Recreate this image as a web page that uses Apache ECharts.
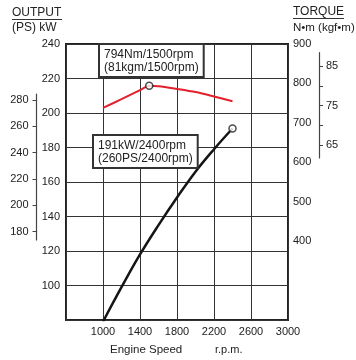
<!DOCTYPE html>
<html>
<head>
<meta charset="utf-8">
<script src="https://cdn.jsdelivr.net/npm/echarts@6/dist/echarts.min.js"></script>
<style>
  html, body { margin: 0; padding: 0; background: #fff; }
  #chart { width: 356px; height: 360px; }
</style>
</head>
<body>
<div id="chart"></div>
<script>
// engine speed (rpm) for each reading
const torqueRpm = [1000, 1200, 1400, 1500, 1600, 1800, 2000, 2200, 2400];
const torqueNm = [738, 760, 783, 794, 793, 786, 778, 767, 755];
const outputRpm = [1000, 1200, 1400, 1600, 1800, 2000, 2200, 2400];
const outputKw = [79, 99, 118, 135, 151, 166, 179, 191];

// marked points (index into the arrays above)
const torquePeakIdx = 3;
const outputPeakIdx = 7;

// tick labels of the secondary scales
const psTicks = [180, 200, 220, 240, 260, 280];
const kgfTicks = [65, 70, 75, 80, 85];
const kgfLabels = [65, 75, 85];

const FONT = 'Liberation Sans, Arial, sans-serif';
const INK = '#222';

const pairs = (xs, ys) => xs.map((x, i) => [x, ys[i]]);

const chart = echarts.init(document.getElementById('chart'));

const hiddenX = (gridIndex) => ({
  type: 'value', gridIndex, show: false, min: 0, max: 1
});

chart.setOption({
  animation: false,
  grid: [
    { left: 66, top: 44, width: 222, height: 276, show: true, borderColor: INK, borderWidth: 2, backgroundColor: 'transparent' },
    { left: 36.5, top: 94, width: 1, height: 146 },   // PS scale
    { left: 319, top: 52.7, width: 1, height: 105.3 }  // kgf·m scale
  ],
  xAxis: [
    {
      type: 'value', gridIndex: 0, min: 600, max: 3000, interval: 400,
      axisLine: { show: false }, axisTick: { show: false },
      axisLabel: { showMinLabel: false, color: INK, fontSize: 11, fontFamily: FONT, margin: 6, formatter: v => String(v) },
      splitLine: { lineStyle: { color: '#333', width: 1 } }
    },
    hiddenX(1),
    hiddenX(2)
  ],
  yAxis: [
    {
      type: 'value', gridIndex: 0, position: 'left', min: 80, max: 240, interval: 20,
      axisLine: { show: false }, axisTick: { show: false },
      axisLabel: { showMinLabel: false, color: INK, fontSize: 11, fontFamily: FONT, margin: 6 },
      splitLine: { lineStyle: { color: '#333', width: 1 } }
    },
    {
      type: 'value', gridIndex: 0, position: 'right', min: 200, max: 900, interval: 100,
      axisLine: { show: false }, axisTick: { show: false },
      axisLabel: {
        color: INK, fontSize: 11, fontFamily: FONT, margin: 5,
        formatter: v => (v >= 400 ? String(v) : '')
      },
      splitLine: { show: false }
    },
    {
      type: 'value', gridIndex: 1, position: 'left', min: 173.7, max: 284.6,
      axisLine: { show: true, lineStyle: { color: '#444', width: 1.2 } },
      axisTick: { show: true, length: 4, customValues: psTicks, lineStyle: { color: '#444' } },
      axisLabel: { customValues: psTicks, color: INK, fontSize: 11, fontFamily: FONT, margin: 8 },
      splitLine: { show: false }
    },
    {
      type: 'value', gridIndex: 2, position: 'right', min: 61.7, max: 88.4,
      axisLine: { show: true, lineStyle: { color: '#444', width: 1.2 } },
      axisTick: { show: true, length: 4, customValues: kgfTicks, lineStyle: { color: '#444' } },
      axisLabel: { customValues: kgfLabels, color: INK, fontSize: 11, fontFamily: FONT, margin: 6 },
      splitLine: { show: false }
    }
  ],
  series: [
    {
      name: 'Torque', type: 'line', xAxisIndex: 0, yAxisIndex: 1,
      data: pairs(torqueRpm, torqueNm),
      symbol: 'none', smooth: 0.3,
      lineStyle: { color: '#e3202c', width: 2 }
    },
    {
      name: 'Output', type: 'line', xAxisIndex: 0, yAxisIndex: 0,
      data: pairs(outputRpm, outputKw),
      symbol: 'none', smooth: 0.4, clip: true,
      lineStyle: { color: '#151515', width: 2.5 }
    },
    {
      type: 'scatter', xAxisIndex: 0, yAxisIndex: 1, z: 5,
      data: [[torqueRpm[torquePeakIdx], torqueNm[torquePeakIdx]]],
      symbol: 'circle', symbolSize: 7,
      itemStyle: { color: '#fff', borderColor: '#222', borderWidth: 1.5 }
    },
    {
      type: 'scatter', xAxisIndex: 0, yAxisIndex: 0, z: 5,
      data: [[outputRpm[outputPeakIdx], outputKw[outputPeakIdx]]],
      symbol: 'circle', symbolSize: 7,
      itemStyle: { color: '#fff', borderColor: '#222', borderWidth: 1.5 }
    }
  ],
  graphic: [
    // left header
    { type: 'text', left: 12, top: 7, style: { text: 'OUTPUT', font: '12px ' + FONT, fill: INK } },
    { type: 'line', shape: { x1: 12, y1: 19.5, x2: 62, y2: 19.5 }, style: { stroke: '#333', lineWidth: 1 } },
    { type: 'text', left: 12, top: 22, style: { text: '(PS) kW', font: '12px ' + FONT, fill: INK } },
    // right header
    { type: 'text', left: 293, top: 6, style: { text: 'TORQUE', font: '12px ' + FONT, fill: INK } },
    { type: 'line', shape: { x1: 293, y1: 18.5, x2: 344, y2: 18.5 }, style: { stroke: '#333', lineWidth: 1 } },
    { type: 'text', left: 293, top: 22, style: { text: 'N•m (kgf•m)', font: '11.5px ' + FONT, fill: INK } },
    // callouts
    {
      type: 'text', left: 98, top: 43, z: 10,
      style: {
        text: '794Nm/1500rpm\n(81kgm/1500rpm)', font: '12px ' + FONT, fill: INK, lineHeight: 13,
        backgroundColor: '#fff', borderColor: '#333', borderWidth: 2, padding: [3, 4, 2, 4]
      }
    },
    {
      type: 'text', left: 92, top: 134, z: 10,
      style: {
        text: '191kW/2400rpm\n(260PS/2400rpm)', font: '12px ' + FONT, fill: INK, lineHeight: 13,
        backgroundColor: '#fff', borderColor: '#333', borderWidth: 2, padding: [3, 4, 2, 4]
      }
    },
    // x axis title
    { type: 'text', left: 110, top: 344, style: { text: 'Engine Speed', font: '11.5px ' + FONT, fill: INK } },
    { type: 'text', left: 215, top: 344, style: { text: 'r.p.m.', font: '11px ' + FONT, fill: INK } }
  ]
});
</script>
</body>
</html>
